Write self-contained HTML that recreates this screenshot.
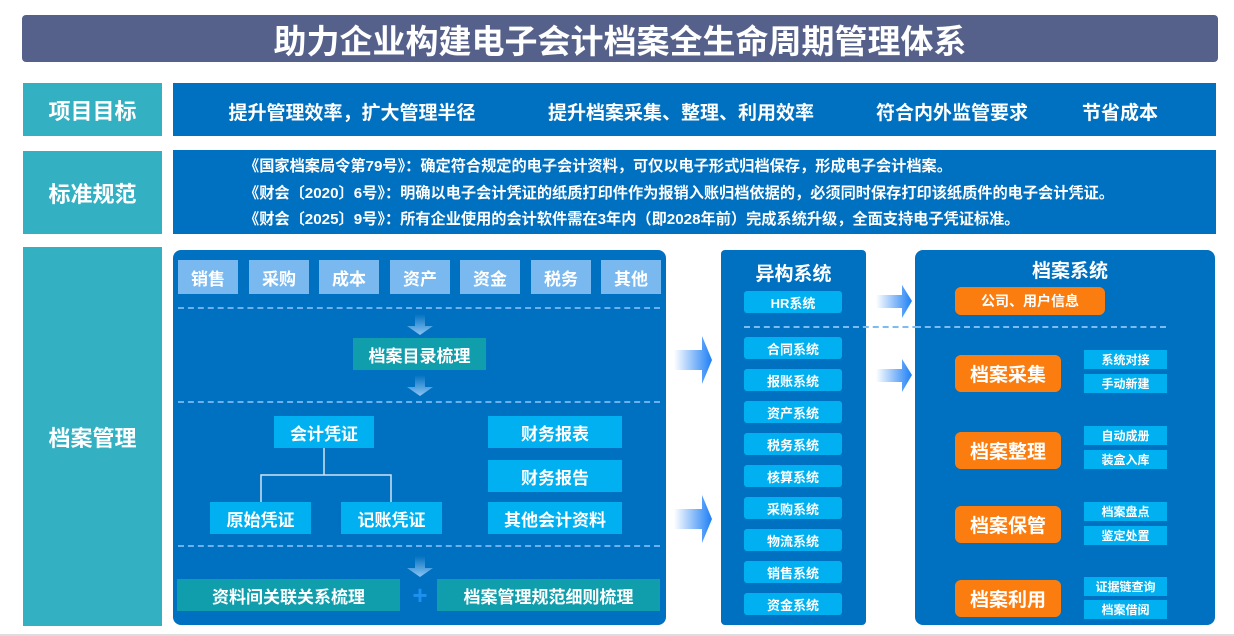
<!DOCTYPE html>
<html><head><meta charset="utf-8"><style>
*{margin:0;padding:0;box-sizing:border-box}
body{width:1234px;height:636px;background:#fff;position:relative;overflow:hidden;font-family:"Liberation Sans","Noto Sans CJK SC",sans-serif;font-weight:bold;color:#fff}
.a{position:absolute}
.c{position:absolute;display:flex;align-items:center;justify-content:center;white-space:nowrap}
.lab{background:#33b0c2;font-size:22px}
.bp{background:#0070c0}
.cat{background:#7ab8f0;font-size:17px;height:34px;width:60px;top:260px}
.sky{background:#00b0f0;font-size:17px}
.teal{background:#109eac;font-size:17px}
.dash{position:absolute;height:0;border-top:2px dashed #6cb0f0}
.ms{background:#00b0f0;font-size:13px;left:744px;width:98px;height:22px;border-radius:3px}
.or{background:#fb7d10;border-radius:6px;font-size:19px;left:955px;width:106px;height:37px}
.sb{background:#00b0f0;font-size:12px;left:1084px;width:83px;height:19px}
</style></head><body>
<div class="c" style="left:22px;top:15px;width:1196px;height:47px;background:#55618a;border-radius:4px;font-size:33px">助力企业构建电子会计档案全生命周期管理体系</div>

<div class="c lab" style="left:23px;top:83px;width:139px;height:53px">项目目标</div>
<div class="a bp" style="left:173px;top:83px;width:1043px;height:53px"></div>
<div class="c" style="left:352px;top:97px;width:0;height:28px;font-size:19px">提升管理效率，扩大管理半径</div>
<div class="c" style="left:681px;top:97px;width:0;height:28px;font-size:19px">提升档案采集、整理、利用效率</div>
<div class="c" style="left:952px;top:97px;width:0;height:28px;font-size:19px">符合内外监管要求</div>
<div class="c" style="left:1120px;top:97px;width:0;height:28px;font-size:19px">节省成本</div>

<div class="c lab" style="left:23px;top:151px;width:139px;height:83px">标准规范</div>
<div class="a bp" style="left:173px;top:150px;width:1043px;height:84px"></div>
<div class="a" style="left:244px;top:154px;font-size:15.2px;line-height:26.5px;white-space:nowrap">《国家档案局令第79号》：确定符合规定的电子会计资料，可仅以电子形式归档保存，形成电子会计档案。<br>《财会〔2020〕6号》：明确以电子会计凭证的纸质打印件作为报销入账归档依据的，必须同时保存打印该纸质件的电子会计凭证。<br>《财会〔2025〕9号》：所有企业使用的会计软件需在3年内（即2028年前）完成系统升级，全面支持电子凭证标准。</div>

<div class="c lab" style="left:23px;top:247px;width:139px;height:379px">档案管理</div>

<div class="a bp" style="left:173px;top:250px;width:493px;height:375px;border-radius:8px"></div>
<div class="c cat" style="left:178px">销售</div>
<div class="c cat" style="left:249px">采购</div>
<div class="c cat" style="left:319px">成本</div>
<div class="c cat" style="left:390px">资产</div>
<div class="c cat" style="left:460px">资金</div>
<div class="c cat" style="left:531px">税务</div>
<div class="c cat" style="left:601px">其他</div>
<div class="dash" style="left:178px;top:307px;width:482px"></div>
<div class="dash" style="left:178px;top:401px;width:482px"></div>
<div class="dash" style="left:178px;top:545px;width:482px"></div>
<svg class="a" style="left:0;top:0" width="1234" height="636">
<defs>
<linearGradient id="g" x1="0" y1="0" x2="0" y2="1"><stop offset="0" stop-color="#0070c0"/><stop offset="1" stop-color="#8cc4f5"/></linearGradient>
<linearGradient id="h" x1="0" y1="0" x2="1" y2="0"><stop offset="0" stop-color="#fff"/><stop offset="1" stop-color="#1e7ff5"/></linearGradient>
</defs>
<path d="M415 314h10v12h8l-13 9-13-9h8z" fill="url(#g)"/>
<path d="M415 375h10v12h8l-13 9-13-9h8z" fill="url(#g)"/>
<path d="M415 556h10v12h8l-13 9-13-9h8z" fill="url(#g)"/>
<path d="M674 350h28v-14l10 24-10 24v-14h-28z" fill="url(#h)"/>
<path d="M674 509h28v-14l10 24-10 24v-14h-28z" fill="url(#h)"/>
<path d="M876 295h26v-10l10 16-10 17v-10h-26z" fill="url(#h)"/>
<path d="M876 369h26v-10l10 16-10 17v-10h-26z" fill="url(#h)"/>
<path d="M324 448v27M261 502v-27h130v27" stroke="#cfe2f3" stroke-width="1.5" fill="none"/>
</svg>
<div class="c teal" style="left:353px;top:338px;width:133px;height:32px">档案目录梳理</div>
<div class="c sky" style="left:274px;top:416px;width:100px;height:32px">会计凭证</div>
<div class="c sky" style="left:210px;top:502px;width:101px;height:32px">原始凭证</div>
<div class="c sky" style="left:341px;top:502px;width:101px;height:32px">记账凭证</div>
<div class="c sky" style="left:488px;top:416px;width:134px;height:32px">财务报表</div>
<div class="c sky" style="left:488px;top:460px;width:134px;height:32px">财务报告</div>
<div class="c sky" style="left:488px;top:502px;width:134px;height:32px">其他会计资料</div>
<div class="c teal" style="left:177px;top:579px;width:223px;height:32px">资料间关联关系梳理</div>
<div class="c" style="left:410px;top:579px;width:20px;height:32px;font-size:26px;color:#1e90f0">+</div>
<div class="c teal" style="left:437px;top:579px;width:223px;height:32px">档案管理规范细则梳理</div>

<div class="a bp" style="left:721px;top:250px;width:145px;height:375px;border-radius:4px"></div>
<div class="c" style="left:721px;top:260px;width:145px;height:24px;font-size:19px">异构系统</div>
<div class="c ms" style="top:291px">HR系统</div>
<div class="dash" style="left:744px;top:326px;width:422px;border-color:#7dbcf2"></div>
<div class="c ms" style="top:337px">合同系统</div>
<div class="c ms" style="top:369px">报账系统</div>
<div class="c ms" style="top:401px">资产系统</div>
<div class="c ms" style="top:433px">税务系统</div>
<div class="c ms" style="top:465px">核算系统</div>
<div class="c ms" style="top:497px">采购系统</div>
<div class="c ms" style="top:529px">物流系统</div>
<div class="c ms" style="top:561px">销售系统</div>
<div class="c ms" style="top:593px">资金系统</div>

<div class="a bp" style="left:915px;top:250px;width:300px;height:375px;border-radius:8px"></div>
<div class="dash" style="left:915px;top:326px;width:251px;border-color:#7dbcf2"></div>
<div class="c" style="left:915px;top:257px;width:310px;height:24px;font-size:19px">档案系统</div>
<div class="c or" style="top:287px;width:150px;height:28px;font-size:14px">公司、用户信息</div>
<div class="c or" style="top:355px">档案采集</div>
<div class="c or" style="top:432px">档案整理</div>
<div class="c or" style="top:506px">档案保管</div>
<div class="c or" style="top:580px">档案利用</div>
<div class="c sb" style="top:350px">系统对接</div>
<div class="c sb" style="top:374px">手动新建</div>
<div class="c sb" style="top:426px">自动成册</div>
<div class="c sb" style="top:450px">装盒入库</div>
<div class="c sb" style="top:502px">档案盘点</div>
<div class="c sb" style="top:526px">鉴定处置</div>
<div class="c sb" style="top:577px">证据链查询</div>
<div class="c sb" style="top:600px">档案借阅</div>
<div class="a" style="left:0;top:634px;width:1234px;height:2px;background:#ddd"></div>
</body></html>
